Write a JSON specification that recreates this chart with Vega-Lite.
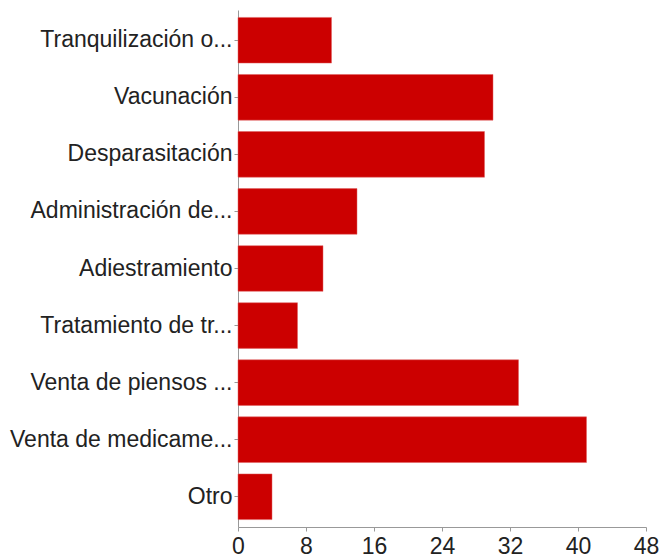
{
  "$schema": "https://vega.github.io/schema/vega-lite/v6.json",
  "width": 408,
  "height": 517,
  "autosize": {"type": "none"},
  "padding": {"left": 238, "top": 10, "right": 16, "bottom": 31},
  "background": "white",
  "data": {
    "values": [
      {"categoria": "Tranquilización o...", "valor": 11},
      {"categoria": "Vacunación", "valor": 30},
      {"categoria": "Desparasitación", "valor": 29},
      {"categoria": "Administración de...", "valor": 14},
      {"categoria": "Adiestramiento", "valor": 10},
      {"categoria": "Tratamiento de tr...", "valor": 7},
      {"categoria": "Venta de piensos ...", "valor": 33},
      {"categoria": "Venta de medicame...", "valor": 41},
      {"categoria": "Otro", "valor": 4}
    ]
  },
  "mark": {"type": "bar", "color": "#cc0000", "stroke": "#e06060", "strokeWidth": 0.5},
  "encoding": {
    "y": {
      "field": "categoria",
      "type": "nominal",
      "sort": null,
      "scale": {"paddingInner": 0.2, "paddingOuter": 0.13},
      "axis": {
        "title": null,
        "labelFont": "Liberation Sans",
        "labelFontSize": 23,
        "labelColor": "#222222",
        "labelPadding": 2,
        "labelLimit": 300,
        "tickSize": 4,
        "tickColor": "#999999",
        "domainColor": "#999999",
        "grid": false
      }
    },
    "x": {
      "field": "valor",
      "type": "quantitative",
      "scale": {"domain": [0, 48], "nice": false},
      "axis": {
        "title": null,
        "values": [0, 8, 16, 24, 32, 40, 48],
        "labelFont": "Liberation Sans",
        "labelFontSize": 23,
        "labelColor": "#222222",
        "labelPadding": 4,
        "tickSize": 4,
        "tickColor": "#999999",
        "domainColor": "#999999",
        "labelFlush": false,
        "labelOverlap": false,
        "grid": false
      }
    }
  },
  "config": {"view": {"stroke": null}}
}
